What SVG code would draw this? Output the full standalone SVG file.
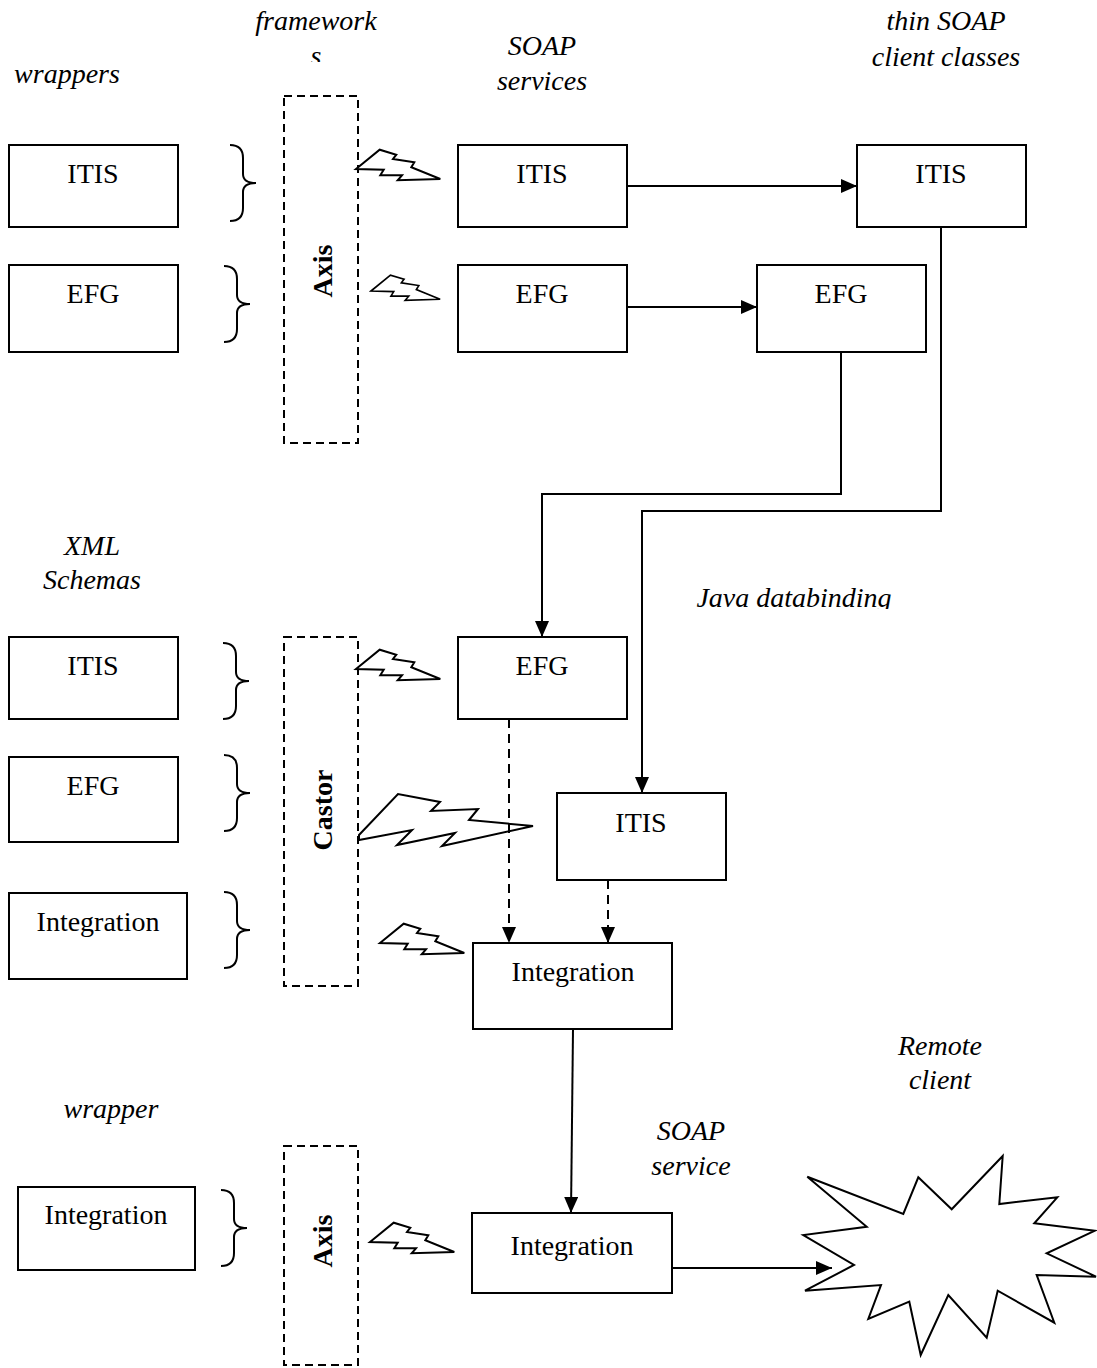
<svg xmlns="http://www.w3.org/2000/svg" xmlns:xlink="http://www.w3.org/1999/xlink" width="1097" height="1368" viewBox="0 0 1097 1368">
<style>
.box{fill:#fff;stroke:#000;stroke-width:2}
.dbox{fill:none;stroke:#000;stroke-width:2;stroke-dasharray:8,5}
.t{font-family:"Liberation Serif","Times New Roman",serif;font-size:28px;fill:#000;text-anchor:middle}
.it{font-family:"Liberation Serif","Times New Roman",serif;font-size:28px;font-style:italic;fill:#000;text-anchor:middle}
.bt{font-family:"Liberation Serif","Times New Roman",serif;font-size:28px;font-weight:bold;fill:#000;text-anchor:middle}
.ln{fill:none;stroke:#000;stroke-width:2}
.dl{fill:none;stroke:#000;stroke-width:2;stroke-dasharray:9,6}
.shape{fill:#fff;stroke:#000;stroke-width:2;stroke-linejoin:miter}
.brace{fill:none;stroke:#000;stroke-width:2}
</style>
<defs>
<marker id="ah" markerUnits="userSpaceOnUse" markerWidth="16" markerHeight="14" refX="16" refY="7" orient="auto">
<path d="M0,0 L16,7 L0,14 Z" fill="#000"/>
</marker>
<path id="bolt" class="shape" d="M0,0 L23.7,-19.3 L40.3,-14.3 L37,-10 L58.3,-6.7 L55.3,-1.7 L84.3,10 L41.7,11.3 L46,6.3 L24.3,6.3 L27.7,0.7 Z"/>
<path id="brace" class="brace" d="M0,0 Q13,0 13,13 L13,29 Q13,38 26,38 Q13,38 13,47 L13,63 Q13,76 0,76"/>
<clipPath id="clipS"><rect x="240" y="0" width="200" height="62"/></clipPath>
<clipPath id="clipJ"><rect x="680" y="570" width="240" height="39"/></clipPath>
</defs>

<g id="labels">
<text class="it" x="67" y="83">wrappers</text>
<g clip-path="url(#clipS)"><text class="it" x="316" y="30">framework</text><text class="it" x="316" y="65">s</text></g>
<text class="it" x="542" y="55">SOAP</text>
<text class="it" x="542" y="90">services</text>
<text class="it" x="946" y="30">thin SOAP</text>
<text class="it" x="946" y="66">client classes</text>
<text class="it" x="92" y="555">XML</text>
<text class="it" x="92" y="589">Schemas</text>
<g clip-path="url(#clipJ)"><text class="it" x="794" y="607">Java databinding</text></g>
<text class="it" x="940" y="1055">Remote</text>
<text class="it" x="940" y="1089">client</text>
<text class="it" x="111" y="1118">wrapper</text>
<text class="it" x="691" y="1140">SOAP</text>
<text class="it" x="691" y="1175">service</text>
</g>

<g id="frameworks">
<g id="axis-top"><rect class="dbox" x="284" y="96" width="74" height="347"/><text class="bt" transform="translate(332,271) rotate(-90)">Axis</text></g>
<g id="castor"><rect class="dbox" x="284" y="637" width="74" height="349"/><text class="bt" transform="translate(332,810) rotate(-90)">Castor</text></g>
<g id="axis-bottom"><rect class="dbox" x="284" y="1146" width="74" height="219"/><text class="bt" transform="translate(332,1241) rotate(-90)">Axis</text></g>
</g>

<g id="braces">
<use xlink:href="#brace" transform="translate(230,145)"/>
<use xlink:href="#brace" transform="translate(224,266)"/>
<use xlink:href="#brace" transform="translate(223,643)"/>
<use xlink:href="#brace" transform="translate(224,755)"/>
<use xlink:href="#brace" transform="translate(224,892)"/>
<use xlink:href="#brace" transform="translate(221,1190)"/>
</g>

<g id="bolts">
<use xlink:href="#bolt" transform="translate(356,169)"/>
<use xlink:href="#bolt" transform="translate(371,291) scale(0.82)"/>
<use xlink:href="#bolt" transform="translate(356,669)"/>
<path class="shape" d="M359,835 L398,794 L440,802 L431,811 L478,809 L469,820 L533,826 L442,846 L455,833 L397,845 L412,830 L359,840 Z"/>
<use xlink:href="#bolt" transform="translate(380,943)"/>
<use xlink:href="#bolt" transform="translate(370,1242)"/>
</g>

<g id="node-w-itis"><rect class="box" x="9" y="145" width="169" height="82"/><text class="t" x="93" y="183">ITIS</text></g>
<g id="node-w-efg"><rect class="box" x="9" y="265" width="169" height="87"/><text class="t" x="93" y="303">EFG</text></g>
<g id="node-s-itis"><rect class="box" x="458" y="145" width="169" height="82"/><text class="t" x="542" y="183">ITIS</text></g>
<g id="node-s-efg"><rect class="box" x="458" y="265" width="169" height="87"/><text class="t" x="542" y="303">EFG</text></g>
<g id="node-c-itis"><rect class="box" x="857" y="145" width="169" height="82"/><text class="t" x="941" y="183">ITIS</text></g>
<g id="node-c-efg"><rect class="box" x="757" y="265" width="169" height="87"/><text class="t" x="841" y="303">EFG</text></g>

<g id="node-x-itis"><rect class="box" x="9" y="637" width="169" height="82"/><text class="t" x="93" y="675">ITIS</text></g>
<g id="node-x-efg"><rect class="box" x="9" y="757" width="169" height="85"/><text class="t" x="93" y="795">EFG</text></g>
<g id="node-x-int"><rect class="box" x="9" y="893" width="178" height="86"/><text class="t" x="98" y="931">Integration</text></g>
<g id="node-j-efg"><rect class="box" x="458" y="637" width="169" height="82"/><text class="t" x="542" y="675">EFG</text></g>
<g id="node-j-itis"><rect class="box" x="557" y="793" width="169" height="87"/><text class="t" x="641" y="832">ITIS</text></g>
<g id="node-j-int"><rect class="box" x="473" y="943" width="199" height="86"/><text class="t" x="573" y="981">Integration</text></g>

<g id="node-w2-int"><rect class="box" x="18" y="1187" width="177" height="83"/><text class="t" x="106" y="1224">Integration</text></g>
<g id="node-s2-int"><rect class="box" x="472" y="1213" width="200" height="80"/><text class="t" x="572" y="1255">Integration</text></g>
<g id="node-remote"><path class="shape" d="M807.3,1176.7 L903.3,1214 L918.3,1177.3 L951.7,1209.3 L1002.7,1156 L999.3,1204 L1057.3,1197.3 L1034.3,1223.3 L1095,1230.7 L1046.7,1253.3 L1096,1276.7 L1036.7,1275 L1054.3,1322.7 L997.7,1290.7 L986.7,1337.7 L948.3,1295 L920.7,1355 L909.3,1301.7 L868.3,1319 L881,1285 L805,1290.7 L854,1265 L803.3,1235 L866.7,1226.7 Z"/></g>

<g id="connectors">
<path class="ln" d="M627,186 L857,186" marker-end="url(#ah)"/>
<path class="ln" d="M627,307 L757,307" marker-end="url(#ah)"/>
<path class="ln" d="M841,352 L841,494 L542,494 L542,637" marker-end="url(#ah)"/>
<path class="ln" d="M941,227 L941,511 L642,511 L642,793" marker-end="url(#ah)"/>
<path class="dl" d="M509,719 L509,943" marker-end="url(#ah)"/>
<path class="dl" d="M608,880 L608,943" marker-end="url(#ah)"/>
<path class="ln" d="M573,1029 L571,1213" marker-end="url(#ah)"/>
<path class="ln" d="M672,1268 L832,1268" marker-end="url(#ah)"/>
</g>
</svg>
